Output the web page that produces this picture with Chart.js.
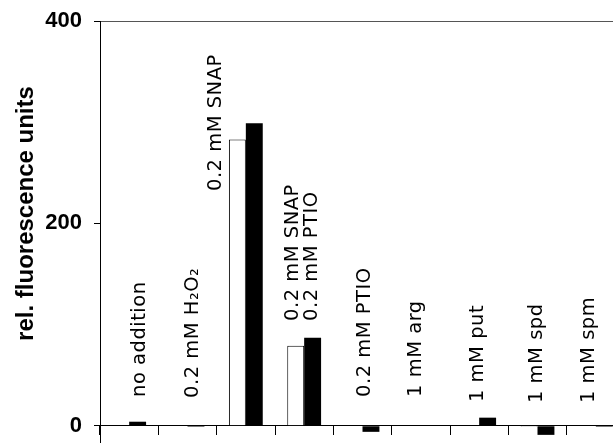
<!DOCTYPE html>
<html><head><meta charset="utf-8">
<script src="https://cdn.jsdelivr.net/npm/chart.js@4.4.0/dist/chart.umd.min.js"></script>
<style>
html,body{margin:0;padding:0;overflow:hidden;background:#fff;width:613px;height:443px}
#wrap{position:absolute;left:0;top:0;width:625px;height:446px}
canvas{display:block}
</style>
</head><body><div id="wrap"><canvas id="c" width="625" height="446"></canvas></div>
<script>
// ---- data ----
const categories = ['no addition', '0.2 mM H₂O₂', '0.2 mM SNAP', ['0.2 mM SNAP', '0.2 mM PTIO'], '0.2 mM PTIO', '1 mM arg', '1 mM put', '1 mM spd', '1 mM spm'];
const openValues   = [0, 0, 283, 79, 0, 0, 0, -1, 0];
const filledValues = [4, -1, 299, 87, -6, 0, 8, -9, -1];
const yTickValues  = [0, 200, 400];
const yTitle = 'rel. fluorescence units';

// ---- label layout (pixel offset from group centre, base in axis units) ----
const labelDx   = [16, 10, -25, -6, 7, 0, 4, 4.5, -2];
const labelBase = [28.5, 27.5, 232, 103.6, 28.5, 28.5, 23.5, 22.5, 22.5];
const lineGap = 19;

Chart.defaults.font.family = '"Liberation Sans", Arial, sans-serif';

const labelPlugin = {
  id: 'catLabels',
  afterDatasetsDraw(chart) {
    const {ctx, scales: {x, y}} = chart;
    ctx.save();
    ctx.font = '19.5px "DejaVu Sans"';
    ctx.letterSpacing = '0.5px';
    ctx.fillStyle = '#000';
    ctx.textBaseline = 'alphabetic';
    ctx.textAlign = 'left';
    categories.forEach((lab, i) => {
      const lines = Array.isArray(lab) ? lab : [lab];
      const cx = x.getPixelForValue(i);
      const py = y.getPixelForValue(labelBase[i]);
      lines.forEach((ln, j) => {
        ctx.save();
        ctx.translate(cx + labelDx[i] + j * lineGap, py);
        ctx.rotate(-Math.PI / 2);
        ctx.fillText(ln, 0, 0);
        ctx.restore();
      });
    });
    ctx.letterSpacing = '0px';
    ctx.font = 'bold 24px "Liberation Sans", Arial';
    ctx.textAlign = 'center';
    ctx.translate(33, 213.5);
    ctx.rotate(-Math.PI / 2);
    ctx.fillText(yTitle, 0, 0);
    ctx.restore();
  }
};

new Chart(document.getElementById('c'), {
  type: 'bar',
  data: {
    labels: categories,
    datasets: [
      {data: openValues, backgroundColor: '#fff', borderColor: '#000', borderWidth: 1, barPercentage: 1, categoryPercentage: 0.58},
      {data: filledValues, backgroundColor: '#000', borderColor: '#000', borderWidth: 0, barPercentage: 1, categoryPercentage: 0.58}
    ]
  },
  options: {
    responsive: false,
    animation: false,
    devicePixelRatio: 1,
    layout: {padding: {top: 21, left: 0, right: 0, bottom: 0}},
    plugins: {legend: {display: false}, tooltip: {enabled: false}},
    scales: {
      x: {
        type: 'category',
        position: {y: 0},
        offset: true,
        grid: {offset: true, drawOnChartArea: false, tickLength: 9, color: '#000', tickColor: '#000', lineWidth: 1},
        border: {display: true, color: '#000', width: 1},
        ticks: {display: false},
        afterFit(s) { s.height = 0; s.paddingLeft = 0; s.paddingRight = 0; }
      },
      y: {
        min: -20, max: 400,
        afterBuildTicks(s) { s.ticks = yTickValues.map(v => ({value: v})); },
        afterFit(s) { s.width = 100; s.paddingTop = 0; s.paddingBottom = 0; },
        grid: {
          color: c => (c.tick && c.tick.value === 400) ? '#555' : 'rgba(0,0,0,0)',
          tickColor: '#000', tickLength: 6, lineWidth: 1
        },
        border: {display: true, color: '#000', width: 1},
        ticks: {font: {size: 22, weight: 'bold', family: '"Liberation Sans", Arial'}, color: '#000', padding: 12}
      }
    }
  },
  plugins: [labelPlugin]
});
</script>
</body></html>
